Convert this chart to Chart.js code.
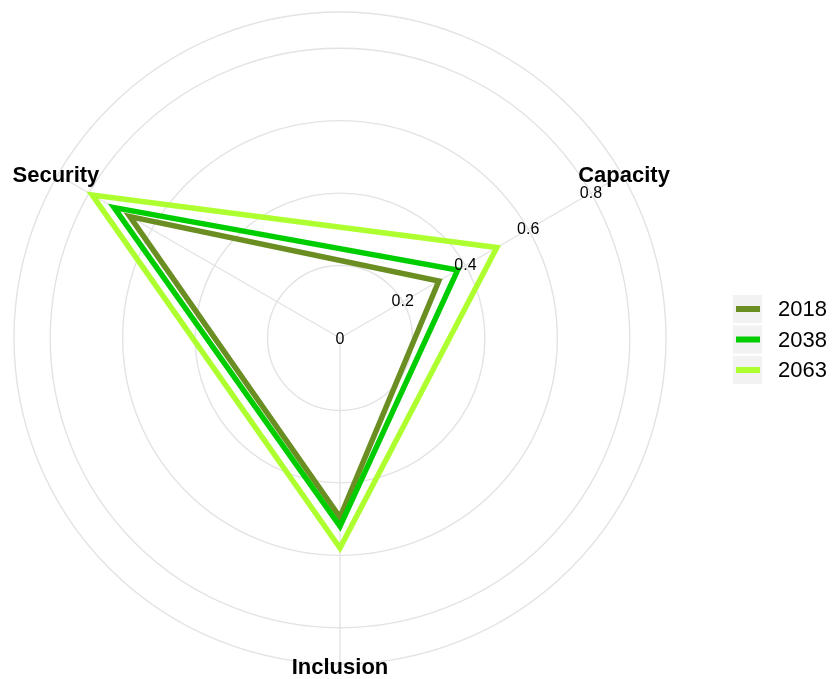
<!DOCTYPE html>
<html>
<head>
<meta charset="utf-8">
<script src="https://cdn.jsdelivr.net/npm/chart.js@4/dist/chart.umd.min.js"></script>
<style>
  body { margin: 0; background: #fff; }
  #wrap { width: 835px; height: 679px; }
</style>
</head>
<body>
<div id="wrap"><canvas id="radarChart" width="835" height="679"></canvas></div>
<script>
var axes = ["Capacity", "Inclusion", "Security"];
var years = ["2018", "2038", "2063"];
var values2018 = [0.315, 0.495, 0.67];
var values2038 = [0.375, 0.52, 0.72];
var values2063 = [0.50, 0.58, 0.79];
var tickValues = [0, 0.2, 0.4, 0.6, 0.8];
var colors = ["#6b8e23", "#00cd00", "#adff2f"];

var fontFamily = "'Liberation Sans', Arial, sans-serif";

// axis labels, tick labels and the legend are drawn by hand so they stay horizontal
var extrasPlugin = {
    id: "extras",
    afterDatasetsDraw: function (chart) {
        var ctx = chart.ctx;
        var scale = chart.scales.r;
        ctx.save();
        ctx.textAlign = "center";
        ctx.textBaseline = "middle";
        ctx.fillStyle = "#000";

        ctx.font = "16px " + fontFamily;
        tickValues.forEach(function (v) {
            var p = scale.getPointPositionForValue(0, v);
            ctx.fillText(String(v), p.x, p.y + (v === 0 ? 2 : 0));
        });

        ctx.font = "bold 22px " + fontFamily;
        axes.forEach(function (name, i) {
            var p = scale.getPointPosition(i, scale.drawingArea + 2);
            ctx.fillText(name, p.x, p.y + 2);
        });

        // legend
        ctx.textAlign = "left";
        ctx.font = "22px " + fontFamily;
        chart.data.datasets.forEach(function (ds, i) {
            var top = 295 + i * 30.5;
            ctx.fillStyle = "#f2f2f2";
            ctx.fillRect(733, top, 29, 28);
            ctx.strokeStyle = ds.borderColor;
            ctx.lineWidth = 6;
            ctx.beginPath();
            ctx.moveTo(736, top + 14);
            ctx.lineTo(760, top + 14);
            ctx.stroke();
            ctx.fillStyle = "#000";
            ctx.fillText(ds.label, 778, top + 15);
        });
        ctx.restore();
    }
};

var ctxr = document.getElementById("radarChart").getContext("2d");

var radar = new Chart(ctxr, {
    type: "radar",
    data: {
        labels: axes,
        datasets: [
            { label: years[0], data: values2018, borderColor: colors[0], order: 3 },
            { label: years[1], data: values2038, borderColor: colors[1], order: 2 },
            { label: years[2], data: values2063, borderColor: colors[2], order: 1 },
        ],
    },
    options: {
        responsive: false,
        animation: false,
        devicePixelRatio: 1,
        layout: {
            padding: { left: 14, right: 169, top: 11, bottom: 14 },
        },
        elements: {
            line: { borderWidth: 5.5, fill: false, tension: 0 },
            point: { radius: 0, hoverRadius: 0 },
        },
        scales: {
            r: {
                startAngle: 60,
                min: 0,
                max: 0.9,
                ticks: { display: false, stepSize: 0.2 },
                pointLabels: { display: false },
                grid: { circular: true, color: "#e3e3e3", lineWidth: 1.4 },
                angleLines: { color: "#e3e3e3", lineWidth: 1.4 },
            },
        },
        plugins: {
            legend: { display: false },
            tooltip: { enabled: false },
        },
    },
    plugins: [extrasPlugin],
});
</script>
</body>
</html>
